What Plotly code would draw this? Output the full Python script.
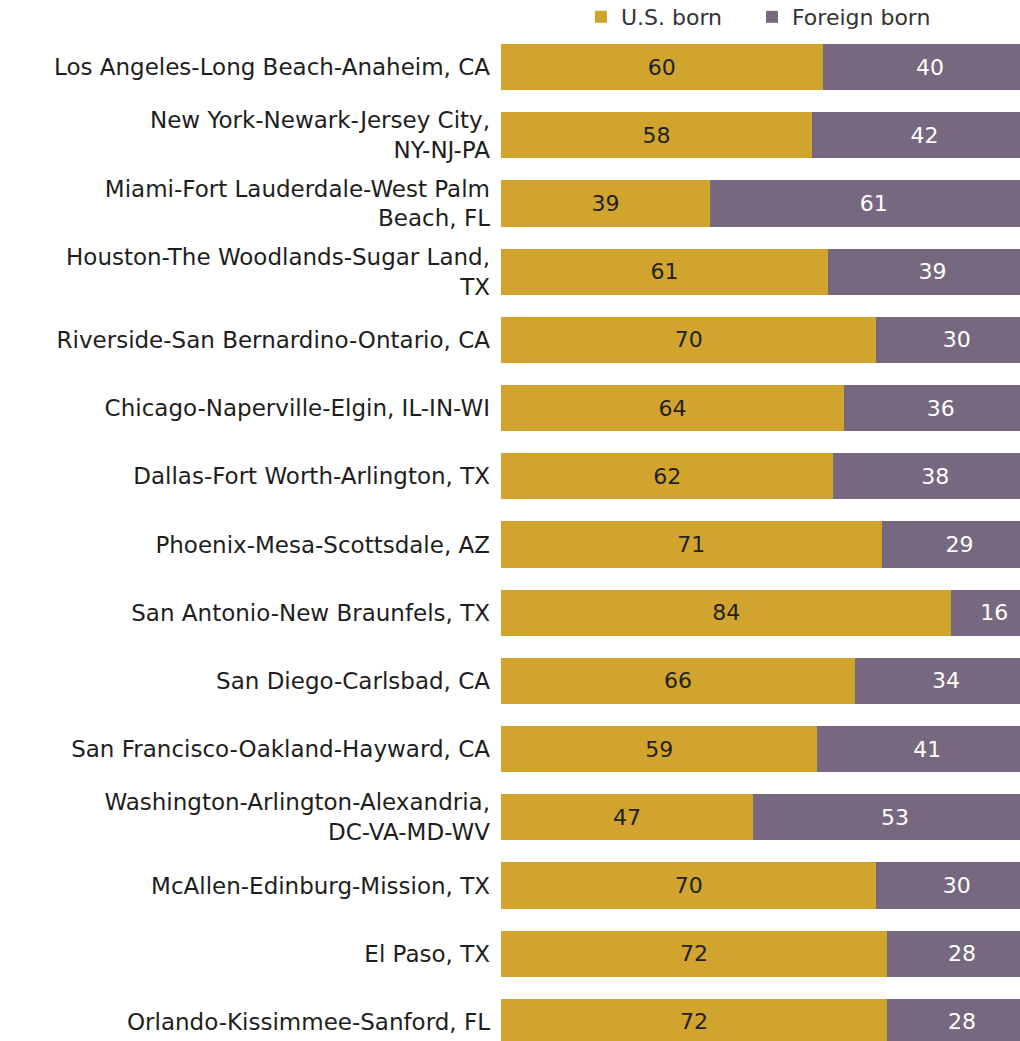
import plotly.graph_objects as go

metros = [
    "Los Angeles-Long Beach-Anaheim, CA",
    "New York-Newark-Jersey City,<br>NY-NJ-PA",
    "Miami-Fort Lauderdale-West Palm<br>Beach, FL",
    "Houston-The Woodlands-Sugar Land,<br>TX",
    "Riverside-San Bernardino-Ontario, CA",
    "Chicago-Naperville-Elgin, IL-IN-WI",
    "Dallas-Fort Worth-Arlington, TX",
    "Phoenix-Mesa-Scottsdale, AZ",
    "San Antonio-New Braunfels, TX",
    "San Diego-Carlsbad, CA",
    "San Francisco-Oakland-Hayward, CA",
    "Washington-Arlington-Alexandria,<br>DC-VA-MD-WV",
    "McAllen-Edinburg-Mission, TX",
    "El Paso, TX",
    "Orlando-Kissimmee-Sanford, FL",
]
us_born = [60, 58, 39, 61, 70, 64, 62, 71, 84, 66, 59, 47, 70, 72, 72]
foreign_born = [40, 42, 61, 39, 30, 36, 38, 29, 16, 34, 41, 53, 30, 28, 28]

FONT = "DejaVu Sans"
GOLD = "#D1A42E"
PURPLE = "#76687E"

fig = go.Figure()
fig.add_trace(go.Bar(
    y=metros, x=us_born, orientation="h", name="U.S. born",
    marker=dict(color=GOLD, line=dict(width=0)),
    text=[str(v) for v in us_born], textposition="inside",
    insidetextanchor="middle", constraintext="none",
    insidetextfont=dict(family=FONT, size=22, color="#222222"),
    legend="legend",
))
fig.add_trace(go.Bar(
    y=metros, x=foreign_born, orientation="h", name="Foreign born",
    marker=dict(color=PURPLE, line=dict(width=0)),
    text=[str(v) for v in foreign_born], textposition="inside",
    insidetextanchor="middle", constraintext="none",
    insidetextfont=dict(family=FONT, size=22, color="#FFFFFF"),
    legend="legend2",
))

W, H = 1020, 1041
legend_common = dict(
    orientation="h", xref="paper", xanchor="left",
    yref="container", y=1 - 17 / H, yanchor="middle",
    font=dict(family=FONT, size=22, color="#333333"),
    itemwidth=30, bgcolor="rgba(0,0,0,0)",
)

fig.update_layout(
    barmode="stack",
    bargap=0.32,
    width=W, height=H,
    margin=dict(l=501, r=0, t=33, b=0, autoexpand=False),
    plot_bgcolor="white", paper_bgcolor="white",
    font=dict(family=FONT, size=23, color="#1e1e1e"),
    showlegend=True,
    legend=dict(x=0.154, **legend_common),
    legend2=dict(x=0.4836, **legend_common),
    xaxis=dict(range=[0, 96.8], showgrid=False, zeroline=False,
               showticklabels=False, visible=False, fixedrange=True),
    yaxis=dict(categoryorder="array", categoryarray=metros,
               range=[14.28, -0.5], showgrid=False, zeroline=False,
               ticks="", ticklabelstandoff=10, showline=False,
               automargin=False,
               tickfont=dict(family=FONT, size=23, color="#1e1e1e")),
)

fig.write_html(
    "out.html",
    config={"displayModeBar": False},
    post_script="document.body.style.margin='0';document.body.style.overflow='hidden';",
)
